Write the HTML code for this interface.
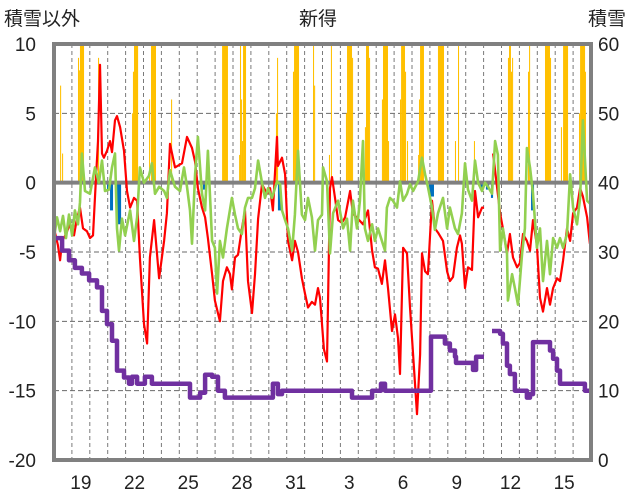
<!DOCTYPE html>
<html><head><meta charset="utf-8">
<style>
html,body{margin:0;padding:0;background:#fff;}
svg{display:block;font-family:"Liberation Sans","Noto Sans CJK JP",sans-serif;}
</style></head>
<body>
<svg id="chart" width="636" height="501" viewBox="0 0 636 501" xmlns="http://www.w3.org/2000/svg">
<text x="4" y="25" font-size="19" fill="#222">積雪以外</text>
<text x="318" y="25" font-size="19" fill="#222" text-anchor="middle">新得</text>
<text x="588" y="25" font-size="19" fill="#222">積雪</text>
<g id="grid"></g>
<g id="bars"></g>
<g id="lines"></g>
<g id="axes"></g>
</svg>
<script>
// ---- data ----
const leftTicks = [10,5,0,-5,-10,-15,-20];
const rightTicks = [60,50,40,30,20,10,0];
const dayLabels = ["19","22","25","28","31","3","6","9","12","15"];
const dayLabelIdx = [1,4,7,10,13,16,19,22,25,28];

const redT = [0,.22,.34,.45,.67,.89,1.12,1.28,1.45,1.62,1.84,2.01,2.18,2.35,2.46,2.57,2.68,2.79,2.96,3.13,3.24,3.41,3.52,3.69,3.91,4.08,4.25,4.47,4.64,4.80,5.03,5.20,5.36,5.59,5.87,6.15,6.31,6.48,6.76,7.15,7.43,7.71,7.88,8.04,8.27,8.44,8.60,8.83,8.99,9.27,9.44,9.66,9.83,9.94,10.11,10.28,10.50,10.67,10.84,11.06,11.23,11.40,11.62,11.90,12.07,12.23,12.46,12.51,12.74,12.91,13.07,13.30,13.46,13.63,13.85,14.02,14.19,14.41,14.58,14.75,14.86,15.08,15.25,15.42,15.53,15.70,15.87,16.09,16.26,16.54,16.70,16.98,17.26,17.54,17.77,17.93,18.10,18.32,18.49,18.66,18.88,19.05,19.22,19.33,19.50,19.72,19.89,20.06,20.28,20.45,20.56,20.73,20.89,21.12,21.28,21.45,21.73,21.96,22.12,22.29,22.51,22.68,22.79,22.96,23.13,23.35,23.52,23.69,23.91,24.02,24.3,24.53,24.75,24.92,25.08,25.31,25.47,25.64,25.87,26.03,26.20,26.42,26.59,26.76,26.98,27.15,27.32,27.54,27.71,27.88,28.10,28.27,28.44,28.66,28.83,29.00,29.22,29.39,29.55,29.78,29.94];
const redV = [-3.3,-4.5,-5.6,-4.2,-3.7,-3,-3.8,-2.6,-1.8,-3.3,-3.5,-4.0,-3.8,0.5,3,8.5,2.1,1.8,2.3,3.0,2.2,4.5,4.8,4.0,2.3,-0.6,-1.8,-1.1,-1.3,-5.4,-10.2,-11.6,-5.4,-2.7,-6.9,-4.2,-2.2,2.8,1.1,1.4,3.3,2.5,1.5,-0.4,-1.8,-2.5,-4,-6.6,-8.5,-10,-7.1,-6.1,-6.6,-7.7,-5.4,-5.2,-3.3,-2,-7.1,-9.4,-6.6,-2.6,-0.1,-0.8,-0.4,-2,3.3,1.2,1.8,0.6,-4.2,-5.6,-4.2,-5,-6.9,-8,-9,-8.6,-8.8,-7.6,-8.3,-12,-12.9,-0.4,0.4,-1.1,-2.7,-2.9,-2.5,-0.6,-2.2,-2.6,-3,-2,-4.9,-6.1,-6.2,-7.3,-5.6,-7.6,-10.7,-9.5,-11.2,-13.8,-4.7,-5.1,-9,-12.4,-16.7,-12.4,-5.1,-6.4,-6.6,-1.3,-3.3,-3.6,-4.2,-6.4,-7.1,-6.8,-4.7,-3.8,-4.4,-7.6,-6.1,-6.3,-0.6,-2.5,-1.8,-1.8,null,2.1,-0.3,-2.2,-3.3,-5.1,-3.7,-5.4,-6.1,-5.8,-3.7,-4.2,-4.9,-2.7,-4.5,-8.3,-9.3,-7.6,-8.8,-7.6,-6.9,-7.1,-5.6,-3.3,-4.2,-2.2,-1.8,-0.4,-1.0,-2.5,-4.4];

const greenT = [0,.17,.34,.50,.67,.84,1.01,1.17,1.34,1.45,1.56,1.73,2.01,2.29,2.51,2.68,2.85,3.07,3.24,3.41,3.52,3.63,3.80,3.97,4.25,4.47,4.64,4.80,5.03,5.31,5.47,5.64,5.87,6.15,6.31,6.48,6.76,7.04,7.26,7.43,7.60,7.71,7.88,8.04,8.27,8.44,8.60,8.83,8.99,9.11,9.27,9.44,9.66,9.94,10.11,10.28,10.50,10.67,10.84,11.06,11.23,11.40,11.62,11.79,11.96,12.18,12.46,12.63,12.74,12.91,13.07,13.30,13.46,13.63,13.85,14.02,14.19,14.41,14.58,14.75,14.97,15.03,15.25,15.42,15.59,15.87,16.15,16.37,16.54,16.70,16.93,17.09,17.26,17.37,17.54,17.77,17.93,18.10,18.32,18.49,18.60,18.77,18.94,19.16,19.33,19.50,19.72,19.89,20.06,20.34,20.56,20.73,20.89,21.12,21.28,21.45,21.73,21.96,22.12,22.40,22.57,22.79,22.96,23.13,23.35,23.52,23.69,23.91,24.08,24.25,24.47,24.64,24.80,24.92,25.08,25.31,25.36,25.59,25.75,25.92,26.15,26.31,26.42,26.59,26.76,26.98,27.15,27.32,27.54,27.71,27.88,28.10,28.27,28.44,28.66,28.83,29.00,29.22,29.39,29.55,29.78,29.94];
const greenV = [-4,-2.5,-3.5,-2.4,-4,-2.3,-3.8,-2,-3,-1.4,2.1,-0.6,-0.8,1.1,0,1.6,-0.6,-0.5,1.1,2.1,-3.3,-4.9,-2.6,-3.8,-2,-4.2,-2.5,1.1,0,0.5,1.4,-0.8,-0.3,-0.6,-1.1,0.9,-0.3,-0.6,1.1,-0.3,-2,-4.4,0.6,3.3,-0.8,-2,2.3,-4.2,-4.7,-8,-4.2,-5.4,-3.3,-1.1,-2.3,-3.3,-3.7,-1.8,-1.1,-1.1,-0.4,1.6,0,-1.1,-0.4,-1.1,0.1,-0.1,-2,-2.7,-3.3,-4.9,-2.3,2.3,-2.3,-2.7,-1.1,-2.5,-4.9,-2.7,-2.3,1.1,0.1,-5.1,-2.2,-1.3,-3.3,-2.6,-4.9,-1.3,-3.3,-1.3,3,-3.3,-4.2,-3,-4.2,-3.3,-4.2,-4.9,-1.8,-1.1,-1.3,-1.8,0.1,-1.3,-0.8,-0.1,-0.6,0.1,1.8,0.6,-0.3,-1.8,-3.4,-2.2,-1.1,-3.3,-1.8,-3.3,-3.7,-2.2,1.4,-0.5,-1.3,1.6,0,-0.6,0,-0.3,-0.8,3.0,2,-4.9,-3.3,-5.1,-8.5,-6.6,-7.6,-8.8,-5.1,-3.3,2.5,1.1,-0.8,-4.7,-3.3,-7.1,-4.2,-6.6,-4,-4.7,-4,-4.7,-3.7,0.6,-1.8,-3,-1.1,4.5,-1.3,-1.5];

const depthT = [0,.28,.45,.84,1.17,1.56,1.96,2.40,2.68,2.96,3.24,3.52,3.91,4.19,4.36,4.64,5.08,5.47,7.32,7.60,8.16,8.44,8.83,9.16,9.55,12.07,12.23,12.51,12.74,16.54,16.65,17.54,17.77,18.27,18.49,21.01,21.06,21.56,21.84,22.12,22.40,22.46,23.24,23.41,23.58,24.02,24.2,24.47,24.92,25.08,25.31,25.47,25.75,26.15,26.42,26.59,26.76,27.60,27.71,27.88,28.10,28.27,29.50,29.66,30];
const depthV = [32,32,30.2,28.8,27.7,26.9,25.9,24.9,21.5,19.6,17.2,12.9,11.9,11,12,11,12,11,11,9,9.7,12.3,12,10,9,9,11,9.5,10,10,9,9,10,11,10,10,17.8,17.8,16.8,15.8,14.9,14,14,13,14.9,14.9,null,18.6,18.2,16.8,13.6,12.4,10,10,9,9.5,17,17,15.8,14.6,12.9,11,11,10,10];

const snowFrom = [.34,.45,1.34,1.40,1.45,2.46,4.36,4.41,4.47,5.31,5.42,6.54,9.39,10.34,10.39,10.45,10.50,10.56,12.40,12.46,13.35,13.41,14.47,14.53,15.36,15.47,16.31,16.37,16.65,17.37,17.43,17.60,18.32,18.38,18.66,19.33,19.39,19.61,19.72,20.34,20.39,20.45,21.45,22.40,22.57,23.46,25.36,25.42,25.53,25.59,26.48,26.54,27.43,27.71,28.32,28.44,29.33,29.39,29.66];
const snowTo   = [.34,.45,1.34,1.40,1.62,2.46,4.36,4.41,4.64,5.31,5.64,6.54,9.66,10.34,10.39,10.45,10.50,10.67,12.40,12.46,13.35,13.63,14.47,14.53,15.36,15.47,16.31,16.59,16.65,17.37,17.54,17.60,18.32,18.60,18.66,19.33,19.55,19.61,19.72,20.34,20.39,20.61,21.73,22.40,22.57,23.46,25.36,25.47,25.53,25.59,26.48,26.54,27.65,27.71,28.32,28.66,29.33,29.61,29.66];
const snowVal  = [7,2.1,9,8.1,12,9,5,8,12,6,12,6,12,2,12,6,3,12,5,9,8,12,12,7,2,12,5,12,9,4,12,9,6,12,3,6,12,8,3,2,6,12,12,3,12,3,9,12,8,9,8,12,12,9,4,12,5,12,8];

const meltFrom = [2.96,3.13,3.52,8.32,12.51,20.95,23.80,24.13,24.41,26.65];
const meltTo   = [3.07,3.24,3.69,8.44,12.63,21.17,23.90,24.25,24.47,26.76];
const meltVal  = [-0.5,-2,-3,-0.5,-2,-1,-0.4,-0.5,-1.1,-2];

// ---- scales ----
const X0=54, X1=591, Y0=44, Y1=460, NDAYS=30;
const xs = d => X0 + d*(X1-X0)/NDAYS;
const yL = v => Y0 + (10 - v)*(Y1-Y0)/30;
const yR = v => Y1 - v*(Y1-Y0)/60;
const NS="http://www.w3.org/2000/svg";
function mk(tag, attrs, parent){const e=document.createElementNS(NS,tag);for(const k in attrs)e.setAttribute(k,attrs[k]);parent.appendChild(e);return e;}

const grid=document.getElementById('grid'), bars=document.getElementById('bars'), lines=document.getElementById('lines'), axes=document.getElementById('axes'), svg=document.getElementById('chart');

const defs=mk('defs',{},svg);
const cp=mk('clipPath',{id:'clip'},defs);
mk('rect',{x:X0,y:Y0,width:X1-X0,height:Y1-Y0},cp);

for(let i=1;i<NDAYS;i++){
  const gx=xs(i);
  const l=mk('line',{x1:gx,x2:gx,y1:Y0,y2:Y1,stroke:'#7a7a7a','stroke-width':1,'stroke-dasharray':'4,3'},grid);
  
  
}
leftTicks.forEach(t=>{
  if(t===10||t===-20||t===0) return;
  const gy=yL(t);
  const l=mk('line',{x1:X0,x2:X1,y1:gy,y2:gy,stroke:'#6a6a6a','stroke-width':1,'stroke-dasharray':'5,3'},grid);
  
  
});

const bclip=mk('g',{'clip-path':'url(#clip)'},bars);
const dw=(X1-X0)/NDAYS/24;
snowFrom.forEach((f,i)=>{
  const x=xs(f), w=(snowTo[i]-f)*(X1-X0)/NDAYS+dw+0.3;
  const top=yL(snowVal[i]);
  const r=mk('rect',{x:x,y:top,width:w,height:yL(0)-top,fill:'#FFC000'},bclip);
  
  
});
meltFrom.forEach((f,i)=>{
  const x=xs(f), w=(meltTo[i]-f)*(X1-X0)/NDAYS+dw+0.3;
  const r=mk('rect',{x:x,y:yL(0),width:w,height:yL(meltVal[i])-yL(0),fill:'#0070C0'},bclip);
  
  
});

const z=mk('line',{x1:X0,x2:X1,y1:yL(0),y2:yL(0),stroke:'#808080','stroke-width':4},bars);



function pathFrom(T,V,yf){
  let d='',pen=false;
  T.forEach((t,i)=>{
    if(V[i]===null){pen=false;return;}
    d+=(pen?'L':'M')+xs(t).toFixed(1)+','+yf(V[i]).toFixed(1)+' ';
    pen=true;
  });
  return d;
}
function stepFrom(T,V,yf){
  let d='',pen=false,py=0;
  T.forEach((t,i)=>{
    if(V[i]===null){pen=false;return;}
    const x=xs(t).toFixed(1), y=yf(V[i]).toFixed(1);
    if(!pen){d+='M'+x+','+y+' ';}
    else{d+='L'+x+','+py+' L'+x+','+y+' ';}
    py=y;pen=true;
  });
  return d;
}
const lclip=mk('g',{'clip-path':'url(#clip)'},lines);
const red=mk('path',{d:pathFrom(redT,redV,yL),fill:'none',stroke:'#FF0000','stroke-width':2.2,'stroke-linejoin':'round'},lclip);


const green=mk('path',{d:pathFrom(greenT,greenV,yL),fill:'none',stroke:'#92D050','stroke-width':2.6,'stroke-linejoin':'round'},lclip);


const purple=mk('path',{d:stepFrom(depthT,depthV,yR),fill:'none',stroke:'#7030A0','stroke-width':4.5,'stroke-linejoin':'round'},lclip);



const fr=mk('rect',{x:X0,y:Y0,width:X1-X0,height:Y1-Y0,fill:'none',stroke:'#808080','stroke-width':4},axes);



leftTicks.forEach(t=>{
  const tx=mk('text',{x:36,y:yL(t)+7,'font-size':19,'text-anchor':'end',fill:'#222'},axes);
  tx.textContent=String(t);
  
  
});
rightTicks.forEach(t=>{
  const tx=mk('text',{x:598,y:yR(t)+7,'font-size':19,fill:'#222'},axes);
  tx.textContent=String(t);
  
  
});
dayLabels.forEach((s,i)=>{
  const tx=mk('text',{x:xs(dayLabelIdx[i]+0.5),y:489,'font-size':19,'text-anchor':'middle',fill:'#222'},axes);
  tx.textContent=s;
  
  
});
</script>
</body></html>
